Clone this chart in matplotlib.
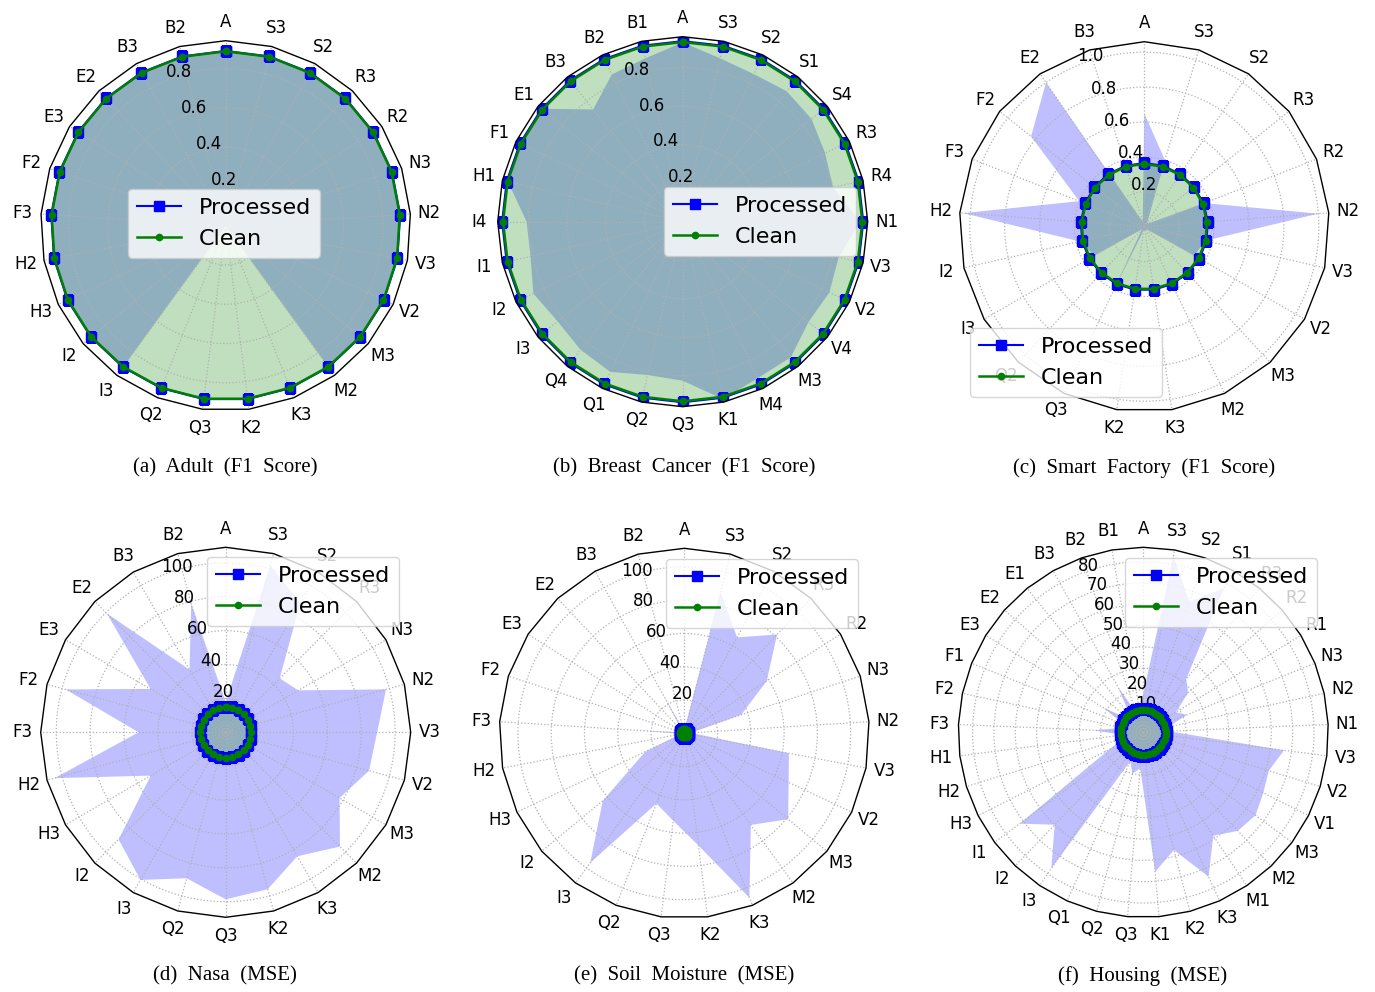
import numpy as np
import matplotlib
matplotlib.use('Agg')
import matplotlib.pyplot as plt
from matplotlib.patches import RegularPolygon
from matplotlib.path import Path
from matplotlib.projections.polar import PolarAxes
from matplotlib.projections import register_projection
from matplotlib.spines import Spine
from matplotlib.transforms import Affine2D

# ---------------- data ----------------
labels_a = ['A', 'B2', 'B3', 'E2', 'E3', 'F2', 'F3', 'H2', 'H3', 'I2', 'I3', 'Q2', 'Q3',
            'K2', 'K3', 'M2', 'M3', 'V2', 'V3', 'N2', 'N3', 'R2', 'R3', 'S2', 'S3']
proc_a = [0.89, 0.89, 0.89, 0.89, 0.89, 0.89, 0.89, 0.89, 0.89, 0.89, 0.89, 0.89, 0.89,
          0.89, 0.89, 0.89, 0.89, 0.89, 0.89, 0.89, 0.89, 0.89, 0.89, 0.89, 0.89]
procfill_a = [0.89, 0.89, 0.89, 0.89, 0.89, 0.89, 0.89, 0.89, 0.89, 0.89, 0.89, 0.0, 0.0,
              0.0, 0.0, 0.89, 0.89, 0.89, 0.89, 0.89, 0.89, 0.89, 0.89, 0.89, 0.89]
clean_a = [0.888, 0.888, 0.888, 0.888, 0.888, 0.888, 0.888, 0.888, 0.888, 0.888, 0.888, 0.888, 0.888,
           0.888, 0.888, 0.888, 0.888, 0.888, 0.888, 0.888, 0.888, 0.888, 0.888, 0.888, 0.888]

labels_b = ['A', 'B1', 'B2', 'B3', 'E1', 'F1', 'H1', 'I4', 'I1', 'I2', 'I3', 'Q4', 'Q1', 'Q2',
            'Q3', 'K1', 'M4', 'M3', 'V4', 'V2', 'V3', 'N1', 'R4', 'R3', 'S4', 'S1', 'S2', 'S3']
proc_b = [0.937, 0.937, 0.937, 0.937, 0.937, 0.937, 0.937, 0.937, 0.937, 0.937, 0.937, 0.937, 0.937, 0.937,
          0.937, 0.937, 0.937, 0.937, 0.937, 0.937, 0.937, 0.937, 0.937, 0.937, 0.937, 0.937, 0.937, 0.937]
procfill_b = [0.93, 0.87, 0.848, 0.745, 0.94, 0.93, 0.93, 0.81, 0.81, 0.86, 0.83, 0.85, 0.865, 0.816,
              0.825, 0.945, 0.90, 0.90, 0.835, 0.845, 0.83, 0.92, 0.80, 0.82, 0.855, 0.866, 0.85, 0.87]
clean_b = [0.932, 0.932, 0.932, 0.932, 0.932, 0.932, 0.932, 0.932, 0.932, 0.932, 0.932, 0.932, 0.932, 0.932,
           0.932, 0.932, 0.932, 0.932, 0.932, 0.932, 0.932, 0.932, 0.932, 0.932, 0.932, 0.932, 0.932, 0.932]

labels_c = ['A', 'B3', 'E2', 'F2', 'F3', 'H2', 'I2', 'I3', 'Q2', 'Q3', 'K2', 'K3', 'M2', 'M3',
            'V2', 'V3', 'N2', 'R2', 'R3', 'S2', 'S3']
proc_c = [0.365, 0.365, 0.365, 0.365, 0.365, 0.365, 0.365, 0.365, 0.365, 0.365, 0.365, 0.365,
          0.365, 0.365, 0.365, 0.365, 0.365, 0.365, 0.365, 0.365, 0.365]
procfill_c = [0.65, 0.03, 1.0, 0.83, 0.40, 1.04, 0.38, 0.33, 0.02, 0.355, 0.02, 0.02, 0.02, 0.02,
              0.33, 0.36, 1.0, 0.37, 0.03, 0.03, 0.40]
clean_c = [0.36, 0.36, 0.36, 0.36, 0.36, 0.36, 0.36, 0.36, 0.36, 0.36, 0.36, 0.36,
           0.36, 0.36, 0.36, 0.36, 0.36, 0.36, 0.36, 0.36, 0.36]

labels_d = ['A', 'B2', 'B3', 'E2', 'E3', 'F2', 'F3', 'H2', 'H3', 'I2', 'I3', 'Q2', 'Q3',
            'K2', 'K3', 'M2', 'M3', 'V2', 'V3', 'N2', 'N3', 'R3', 'S2', 'S3']
proc_d = [15.2, 15.2, 15.2, 15.2, 15.2, 15.2, 15.2, 15.2, 15.2, 15.2, 15.2, 15.2,
          15.2, 15.2, 15.2, 15.2, 15.2, 15.2, 15.2, 15.2, 15.2, 15.2, 15.2, 15.2]
procfill_d = [18, 78.7, 42.7, 99.3, 51.2, 97.8, 51.4, 104.7, 51.1, 89.4, 100.6, 89.2, 98.6,
              95.9, 84.5, 95.4, 77.6, 87.6, 89.4, 98.0, 49.5, 45.1, 88, 102]
clean_d = [15.0, 15.0, 15.0, 15.0, 15.0, 15.0, 15.0, 15.0, 15.0, 15.0, 15.0, 15.0,
           15.0, 15.0, 15.0, 15.0, 15.0, 15.0, 15.0, 15.0, 15.0, 15.0, 15.0, 15.0]

labels_e = ['A', 'B2', 'B3', 'E2', 'E3', 'F2', 'F3', 'H2', 'H3', 'I2', 'I3', 'Q2', 'Q3',
            'K2', 'K3', 'M2', 'M3', 'V2', 'V3', 'N2', 'N3', 'R2', 'R3', 'S2', 'S3']
proc_e = [2.8, 2.8, 2.8, 2.8, 2.8, 2.8, 2.8, 2.8, 2.8, 2.8, 2.8, 2.8, 2.8,
          2.8, 2.8, 2.8, 2.8, 2.8, 2.8, 2.8, 2.8, 2.8, 2.8, 2.8, 2.8]
procfill_e = [2, 2, 27, 2, 2, 2, 26, 2, 26, 63.6, 96.2, 45.4, 53,
              68, 106.3, 68.1, 81, 69.3, 64, 4, 36, 58.7, 81.5, 65.8, 87.7]
clean_e = [2.5, 2.5, 2.5, 2.5, 2.5, 2.5, 2.5, 2.5, 2.5, 2.5, 2.5, 2.5, 2.5,
           2.5, 2.5, 2.5, 2.5, 2.5, 2.5, 2.5, 2.5, 2.5, 2.5, 2.5, 2.5]

labels_f = ['A', 'B1', 'B2', 'B3', 'E1', 'E2', 'E3', 'F1', 'F2', 'F3', 'H1', 'H2', 'H3',
            'I1', 'I2', 'I3', 'Q1', 'Q2', 'Q3', 'K1', 'K2', 'K3', 'M1', 'M2', 'M3',
            'V1', 'V2', 'V3', 'N1', 'N2', 'N3', 'R1', 'R2', 'R3', 'S1', 'S2', 'S3']
proc_f = [11, 11, 11, 11, 11, 11, 11, 11, 11, 11, 11, 11, 11, 11, 11, 11, 11, 11, 11,
          11, 11, 11, 11, 11, 11, 11, 11, 11, 11, 11, 11, 11, 11, 11, 11, 11, 11]
procfill_f = [18, 10, 10, 24, 10, 10, 22, 10, 10, 23, 10, 10, 18,
              72, 60, 77, 15, 20, 17, 65.6, 57, 74.3, 58.5, 64, 65.4,
              63, 61.5, 66.5, 12, 12, 22, 18, 28, 32, 77.3, 65, 83.7]
clean_f = [10.5, 10.5, 10.5, 10.5, 10.5, 10.5, 10.5, 10.5, 10.5, 10.5, 10.5, 10.5, 10.5,
           10.5, 10.5, 10.5, 10.5, 10.5, 10.5, 10.5, 10.5, 10.5, 10.5, 10.5, 10.5,
           10.5, 10.5, 10.5, 10.5, 10.5, 10.5, 10.5, 10.5, 10.5, 10.5, 10.5, 10.5]

rticks_a = [0.2, 0.4, 0.6, 0.8]
rticks_b = [0.2, 0.4, 0.6, 0.8]
rticks_c = [0.2, 0.4, 0.6, 0.8, 1.0]
rticks_d = [20, 40, 60, 80, 100]
rticks_e = [20, 40, 60, 80, 100]
rticks_f = [10, 20, 30, 40, 50, 60, 70, 80]

captions = ['(a)  Adult  (F1  Score)', '(b)  Breast  Cancer  (F1  Score)',
            '(c)  Smart  Factory  (F1  Score)', '(d)  Nasa  (MSE)',
            '(e)  Soil  Moisture  (MSE)', '(f)  Housing  (MSE)']


# ---------------- radar axes ----------------
def radar_factory(num_vars):
    theta = np.linspace(0, 2 * np.pi, num_vars, endpoint=False)

    class RadarAxes(PolarAxes):
        name = 'radar%d' % num_vars

        def __init__(self, *args, **kwargs):
            super().__init__(*args, **kwargs)
            self.set_theta_zero_location('N')

        def _gen_axes_patch(self):
            return RegularPolygon((0.5, 0.5), num_vars, radius=.5, edgecolor='k')

        def _gen_axes_spines(self):
            spine = Spine(axes=self, spine_type='circle',
                          path=Path.unit_regular_polygon(num_vars))
            spine.set_transform(Affine2D().scale(.5).translate(.5, .5) + self.transAxes)
            return {'polar': spine}

    register_projection(RadarAxes)
    return theta, RadarAxes.name


W, H = 1375, 992
fig = plt.figure(figsize=(W / 100, H / 100), dpi=100)

panels = [
    (labels_a, proc_a, procfill_a, clean_a, rticks_a, 0.942, (225.7, 225.7), (128, 189), (225, 468)),
    (labels_b, proc_b, procfill_b, clean_b, rticks_b, 0.960, (682.7, 221.7), (664, 187), (684, 468)),
    (labels_c, proc_c, procfill_c, clean_c, rticks_c, 1.060, (1144.3, 226.7), (970, 328), (1144, 468)),
    (labels_d, proc_d, procfill_d, clean_d, rticks_d, 109.2, (225.7, 732.3), (207, 557), (225, 976)),
    (labels_e, proc_e, procfill_e, clean_e, rticks_e, 111.2, (684.3, 733.3), (666, 559), (684, 976)),
    (labels_f, proc_f, procfill_f, clean_f, rticks_f, 86.7, (1143.3, 732.3), (1125, 558), (1143, 976)),
]

R = 185.0
for (labels, proc, pfill, clean, rticks, rmax, (cx, cy), (lx, ly), (tx, ty)), cap in zip(panels, captions):
    n = len(labels)
    theta, pname = radar_factory(n)
    ax = fig.add_axes([(cx - R) / W, (H - cy - R) / H, 2 * R / W, 2 * R / H], projection=pname)
    ax.set_ylim(0, rmax)
    ax.fill(theta, pfill, color='b', alpha=0.25, linewidth=0)
    ax.fill(theta, clean, color='g', alpha=0.25, linewidth=0)
    th = np.append(theta, theta[0])
    l1, = ax.plot(th, np.append(proc, proc[0]), '-s', color='b', markersize=7, linewidth=1.5,
                  label='Processed')
    l2, = ax.plot(th, np.append(clean, clean[0]), '-o', color='g', markersize=4.5, linewidth=1.8,
                  label='Clean')
    ax.set_thetagrids(np.degrees(theta), labels, fontsize=12)
    ax.set_rgrids(rticks, [('%g' % t if t >= 10 else '%.1f' % t) for t in rticks], angle=22.5, fontsize=12)
    ax.set_ylim(0, rmax)
    ax.grid(True, color='#b0b0b0', linestyle=':', linewidth=0.9)
    ax.spines['polar'].set_linewidth(1.0)
    ax.tick_params(axis='x', pad=3)
    ax.legend(handles=[l1, l2], loc='upper left', bbox_to_anchor=(lx / W, 1 - ly / H),
              bbox_transform=fig.transFigure, fontsize=16, borderaxespad=0)
    fig.text(tx / W, 1 - ty / H, cap, ha='center', va='center', fontsize=15,
             family='Liberation Serif')

fig.savefig('out.png', dpi=100)
